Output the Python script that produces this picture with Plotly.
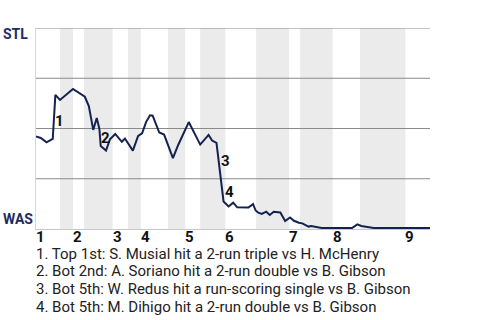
import plotly.graph_objects as go

# Win probability (STL) by play index
play = [0, 1.1, 2.4, 3.8, 4.4, 5.45, 8.4, 10.5, 11.1, 12.0, 13.0, 13.8, 14.4, 14.7, 15.9, 16.8,
        18.0, 19.5, 20.2, 22.0, 23.2, 24.1, 25.0, 25.9, 26.5, 28.0, 29.1, 31.1, 32.3, 34.7,
        37.3, 39.2, 40.0, 41.0, 41.5, 42.0, 42.6, 43.75, 44.8, 45.7, 48.25, 49.3, 49.9, 50.5,
        51.3, 52.3, 53.1, 54.0, 55.5, 56.6, 57.7, 58.6, 59.7, 60.5, 61.3, 61.9, 62.5, 63.9,
        64.9, 71.8, 73.0, 73.9, 75.2, 76.7, 89.5]
stl_wp = [0.46, 0.453, 0.431, 0.448, 0.667, 0.642, 0.697, 0.667, 0.658, 0.612, 0.493, 0.552,
          0.498, 0.413, 0.390, 0.446, 0.473, 0.434, 0.450, 0.390, 0.463, 0.476, 0.532, 0.566,
          0.564, 0.480, 0.470, 0.353, 0.418, 0.532, 0.420, 0.468, 0.440, 0.428, 0.333, 0.251,
          0.137, 0.112, 0.131, 0.108, 0.107, 0.124, 0.092, 0.081, 0.075, 0.086, 0.070, 0.086,
          0.082, 0.040, 0.057, 0.041, 0.031, 0.028, 0.020, 0.012, 0.015, 0.011, 0.005, 0.005,
          0.023, 0.015, 0.011, 0.005, 0.005]

# Inning boundaries (play index)
inning_labels = ["1", "2", "3", "4", "5", "6", "7", "8", "9"]
inning_start = [0, 8.4, 17.4, 23.8, 33.9, 43.0, 57.5, 67.4, 83.9]
bottom_start = [5.45, 10.9, 20.9, 30.0, 37.3, 50.0, 60.0, 73.6]
x_end = 89.5

# Key events
event_labels = ["1", "2", "3", "4"]
event_x = [5.45, 15.75, 42.95, 43.9]
event_y = [0.535, 0.453, 0.337, 0.183]
event_notes = [
    "1. Top 1st: S. Musial hit a 2-run triple vs H. McHenry",
    "2. Bot 2nd: A. Soriano hit a 2-run double vs B. Gibson",
    "3. Bot 5th: W. Redus hit a run-scoring single vs B. Gibson",
    "4. Bot 5th: M. Dihigo hit a 2-run double vs B. Gibson",
]

FONT = "Roboto"
NAVY = "#14224f"
LABEL_NAVY = "#1d2d62"

fig = go.Figure()
fig.add_trace(go.Scatter(x=play, y=stl_wp, mode="lines",
                         line=dict(color=NAVY, width=2), hoverinfo="skip"))

shapes = []
for i, b in enumerate(bottom_start):
    shapes.append(dict(type="rect", xref="x", yref="y", x0=b, x1=inning_start[i + 1],
                       y0=0, y1=1, fillcolor="#ebebeb", line=dict(width=0), layer="below"))
for g in [0.25, 0.5, 0.75, 1.0]:
    shapes.append(dict(type="line", xref="x", yref="y", x0=0, x1=x_end, y0=g, y1=g,
                       line=dict(color="#8a8a8a", width=1), layer="below"))

ann = []
for lab, s in zip(inning_labels, inning_start):
    ann.append(dict(x=s, y=0, xref="x", yref="paper", text=lab, showarrow=False,
                    xanchor="left", yanchor="top", yshift=2, xshift=-1, borderpad=0,
                    font=dict(family=FONT, size=15, color="#111111", weight="bold")))
for lab, ex, ey in zip(event_labels, event_x, event_y):
    ann.append(dict(x=ex, y=ey, xref="x", yref="y", text=lab, showarrow=False,
                    xanchor="center", yanchor="middle",
                    font=dict(family=FONT, size=15, color="#111111", weight="bold")))
ann.append(dict(x=0, y=1, xref="paper", yref="paper", text="STL", showarrow=False,
                xanchor="left", yanchor="middle", xshift=-35, yshift=-6,
                font=dict(family=FONT, size=14, color=LABEL_NAVY, weight="bold")))
ann.append(dict(x=0, y=0, xref="paper", yref="paper", text="WAS", showarrow=False,
                xanchor="left", yanchor="middle", xshift=-35, yshift=10,
                font=dict(family=FONT, size=14, color=LABEL_NAVY, weight="bold")))
for i, note in enumerate(event_notes):
    ann.append(dict(x=0, y=0, xref="paper", yref="paper", text=note, showarrow=False,
                    xanchor="left", yanchor="middle", xshift=-1, yshift=-(24.5 + 17.7 * i),
                    borderpad=0,
                    font=dict(family=FONT, size=15, color="#222222")))

fig.update_layout(
    width=480, height=320,
    margin=dict(l=36, r=50, t=28, b=91),
    paper_bgcolor="white", plot_bgcolor="white",
    showlegend=False,
    shapes=shapes, annotations=ann,
    xaxis=dict(range=[0, x_end], showgrid=False, zeroline=False, showticklabels=False,
               showline=True, linecolor="#c8c8c8", linewidth=1, ticks=""),
    yaxis=dict(range=[0, 1], showgrid=False, zeroline=False, showticklabels=False,
               showline=True, linecolor="#d8d8d8", linewidth=1, ticks=""),
)

fig.write_html("out.html")
